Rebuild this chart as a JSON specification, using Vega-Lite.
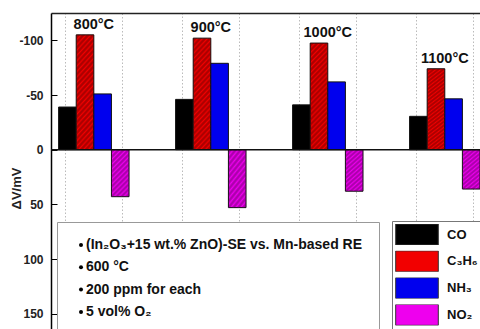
{
  "$schema": "https://vega.github.io/schema/vega-lite/v6.json",
  "width": 429,
  "height": 316,
  "autosize": {"type": "none"},
  "padding": {"left": 51, "top": 13, "right": 0, "bottom": 0},
  "background": "white",
  "config": {"font": "Liberation Sans", "view": {"stroke": null}},
  "datasets": {
    "bars": [
      {"temp": "800°C", "gas": "CO", "value": -39},
      {"temp": "800°C", "gas": "C₃H₆", "value": -105},
      {"temp": "800°C", "gas": "NH₃", "value": -51},
      {"temp": "800°C", "gas": "NO₂", "value": 43},
      {"temp": "900°C", "gas": "CO", "value": -46},
      {"temp": "900°C", "gas": "C₃H₆", "value": -102},
      {"temp": "900°C", "gas": "NH₃", "value": -79},
      {"temp": "900°C", "gas": "NO₂", "value": 53},
      {"temp": "1000°C", "gas": "CO", "value": -41},
      {"temp": "1000°C", "gas": "C₃H₆", "value": -97.5},
      {"temp": "1000°C", "gas": "NH₃", "value": -62},
      {"temp": "1000°C", "gas": "NO₂", "value": 38},
      {"temp": "1100°C", "gas": "CO", "value": -30.5},
      {"temp": "1100°C", "gas": "C₃H₆", "value": -74},
      {"temp": "1100°C", "gas": "NH₃", "value": -46.5},
      {"temp": "1100°C", "gas": "NO₂", "value": 36}
    ],
    "notes": [
      {"note": "(In₂O₃+15 wt.% ZnO)-SE vs. Mn-based RE"},
      {"note": "600 °C"},
      {"note": "200 ppm for each"},
      {"note": "5 vol% O₂"}
    ]
  },
  "layer": [
    {
      "data": {"name": "bars"},
      "mark": {"type": "bar", "stroke": "#111", "strokeWidth": 1},
      "encoding": {
        "x": {
          "field": "temp", "type": "nominal",
          "scale": {"domain": ["800°C", "900°C", "1000°C", "1100°C"], "paddingInner": 0.398, "paddingOuter": 0.0325, "align": 1},
          "axis": {"orient": "bottom", "title": null, "labels": false, "ticks": false, "domain": false, "grid": true, "bandPosition": 0.094, "gridColor": "#bbb", "gridDash": [1.5, 2], "gridWidth": 1}
        },
        "xOffset": {
          "field": "gas", "type": "nominal",
          "scale": {"domain": ["CO", "C₃H₆", "NH₃", "NO₂"], "paddingInner": 0, "paddingOuter": 0}
        },
        "y": {
          "field": "value", "type": "quantitative",
          "scale": {"domain": [-125, 164], "reverse": true, "nice": false, "zero": false},
          "axis": {
            "title": "ΔV/mV",
            "values": [-100, -75, -50, -25, 0, 25, 50, 75, 100, 125, 150],
            "labelExpr": "datum.value % 50 === 0 ? toString(datum.value) : ''",
            "labelFontWeight": "bold", "labelFontSize": 12, "labelColor": "#222", "labelPadding": 14,
            "tickSize": {"condition": {"test": "datum.value % 50 === 0", "value": -6}, "value": -4},
            "tickColor": "black", "tickWidth": 1,
            "domainColor": "black", "domainWidth": 1.5,
            "grid": true,
            "gridOpacity": {"condition": {"test": "datum.value % 50 === 0", "value": 0}, "value": 1},
            "gridColor": "#bbb", "gridDash": [1.5, 2],
            "titleFontSize": 13, "titleFontWeight": "bold", "titleColor": "#222",
            "titleX": -35, "titleY": 175, "titleBaseline": "middle"
          }
        },
        "color": {
          "field": "gas", "type": "nominal",
          "scale": {"domain": ["CO", "C₃H₆", "NH₃", "NO₂"], "range": ["#000000", "#f20000", "#0000ee", "#ee00ee"]},
          "legend": {
            "orient": "none", "legendX": 341, "legendY": 208, "title": null,
            "symbolType": "M-1,-0.49H1V0.49H-1Z", "symbolSize": 1815,
            "symbolStrokeColor": "#333", "symbolStrokeWidth": 1,
            "clipHeight": 21, "rowPadding": 5.8, "labelOffset": 8,
            "labelFontSize": 13, "labelFontWeight": "bold", "labelColor": "#111",
            "fillColor": "white", "strokeColor": "#777", "padding": 3
          }
        }
      }
    },
    {
      "data": {"name": "bars"},
      "transform": [{"filter": "datum.gas === 'C₃H₆'"}],
      "mark": {
        "type": "bar", "strokeWidth": 0,
        "fill": {
          "gradient": "linear", "x1": 0, "y1": 0, "x2": 0.19, "y2": 1.13,
          "stops": [
            {"offset": 0, "color": "rgba(0,0,0,0)"}, {"offset": 0.02, "color": "rgba(110,0,0,0.55)"},
            {"offset": 0.04, "color": "rgba(0,0,0,0)"}, {"offset": 0.06, "color": "rgba(110,0,0,0.55)"},
            {"offset": 0.08, "color": "rgba(0,0,0,0)"}, {"offset": 0.1, "color": "rgba(110,0,0,0.55)"},
            {"offset": 0.12, "color": "rgba(0,0,0,0)"}, {"offset": 0.14, "color": "rgba(110,0,0,0.55)"},
            {"offset": 0.16, "color": "rgba(0,0,0,0)"}, {"offset": 0.18, "color": "rgba(110,0,0,0.55)"},
            {"offset": 0.2, "color": "rgba(0,0,0,0)"}, {"offset": 0.22, "color": "rgba(110,0,0,0.55)"},
            {"offset": 0.24, "color": "rgba(0,0,0,0)"}, {"offset": 0.26, "color": "rgba(110,0,0,0.55)"},
            {"offset": 0.28, "color": "rgba(0,0,0,0)"}, {"offset": 0.3, "color": "rgba(110,0,0,0.55)"},
            {"offset": 0.32, "color": "rgba(0,0,0,0)"}, {"offset": 0.34, "color": "rgba(110,0,0,0.55)"},
            {"offset": 0.36, "color": "rgba(0,0,0,0)"}, {"offset": 0.38, "color": "rgba(110,0,0,0.55)"},
            {"offset": 0.4, "color": "rgba(0,0,0,0)"}, {"offset": 0.42, "color": "rgba(110,0,0,0.55)"},
            {"offset": 0.44, "color": "rgba(0,0,0,0)"}, {"offset": 0.46, "color": "rgba(110,0,0,0.55)"},
            {"offset": 0.48, "color": "rgba(0,0,0,0)"}, {"offset": 0.5, "color": "rgba(110,0,0,0.55)"},
            {"offset": 0.52, "color": "rgba(0,0,0,0)"}, {"offset": 0.54, "color": "rgba(110,0,0,0.55)"},
            {"offset": 0.56, "color": "rgba(0,0,0,0)"}, {"offset": 0.58, "color": "rgba(110,0,0,0.55)"},
            {"offset": 0.6, "color": "rgba(0,0,0,0)"}, {"offset": 0.62, "color": "rgba(110,0,0,0.55)"},
            {"offset": 0.64, "color": "rgba(0,0,0,0)"}, {"offset": 0.66, "color": "rgba(110,0,0,0.55)"},
            {"offset": 0.68, "color": "rgba(0,0,0,0)"}, {"offset": 0.7, "color": "rgba(110,0,0,0.55)"},
            {"offset": 0.72, "color": "rgba(0,0,0,0)"}, {"offset": 0.74, "color": "rgba(110,0,0,0.55)"},
            {"offset": 0.76, "color": "rgba(0,0,0,0)"}, {"offset": 0.78, "color": "rgba(110,0,0,0.55)"},
            {"offset": 0.8, "color": "rgba(0,0,0,0)"}, {"offset": 0.82, "color": "rgba(110,0,0,0.55)"},
            {"offset": 0.84, "color": "rgba(0,0,0,0)"}, {"offset": 0.86, "color": "rgba(110,0,0,0.55)"},
            {"offset": 0.88, "color": "rgba(0,0,0,0)"}, {"offset": 0.9, "color": "rgba(110,0,0,0.55)"},
            {"offset": 0.92, "color": "rgba(0,0,0,0)"}, {"offset": 0.94, "color": "rgba(110,0,0,0.55)"},
            {"offset": 0.96, "color": "rgba(0,0,0,0)"}, {"offset": 0.98, "color": "rgba(110,0,0,0.55)"},
            {"offset": 1, "color": "rgba(0,0,0,0)"}
          ]
        }
      },
      "encoding": {
        "x": {"field": "temp", "type": "nominal", "axis": null, "scale": {"domain": ["800°C", "900°C", "1000°C", "1100°C"], "paddingInner": 0.398, "paddingOuter": 0.0325, "align": 1}},
        "xOffset": {"field": "gas", "type": "nominal", "scale": {"domain": ["CO", "C₃H₆", "NH₃", "NO₂"], "paddingInner": 0, "paddingOuter": 0}},
        "y": {"field": "value", "type": "quantitative", "scale": {"domain": [-125, 164], "reverse": true, "nice": false, "zero": false}}
      }
    },
    {
      "data": {"name": "bars"},
      "transform": [{"filter": "datum.gas === 'NO₂'"}],
      "mark": {
        "type": "bar", "strokeWidth": 0,
        "fill": {
          "gradient": "linear", "x1": 0, "y1": 0, "x2": 0.45, "y2": 1.2,
          "stops": [
            {"offset": 0, "color": "rgba(0,0,0,0)"}, {"offset": 0.0385, "color": "rgba(100,0,100,0.5)"},
            {"offset": 0.0769, "color": "rgba(0,0,0,0)"}, {"offset": 0.1154, "color": "rgba(100,0,100,0.5)"},
            {"offset": 0.1538, "color": "rgba(0,0,0,0)"}, {"offset": 0.1923, "color": "rgba(100,0,100,0.5)"},
            {"offset": 0.2308, "color": "rgba(0,0,0,0)"}, {"offset": 0.2692, "color": "rgba(100,0,100,0.5)"},
            {"offset": 0.3077, "color": "rgba(0,0,0,0)"}, {"offset": 0.3462, "color": "rgba(100,0,100,0.5)"},
            {"offset": 0.3846, "color": "rgba(0,0,0,0)"}, {"offset": 0.4231, "color": "rgba(100,0,100,0.5)"},
            {"offset": 0.4615, "color": "rgba(0,0,0,0)"}, {"offset": 0.5, "color": "rgba(100,0,100,0.5)"},
            {"offset": 0.5385, "color": "rgba(0,0,0,0)"}, {"offset": 0.5769, "color": "rgba(100,0,100,0.5)"},
            {"offset": 0.6154, "color": "rgba(0,0,0,0)"}, {"offset": 0.6538, "color": "rgba(100,0,100,0.5)"},
            {"offset": 0.6923, "color": "rgba(0,0,0,0)"}, {"offset": 0.7308, "color": "rgba(100,0,100,0.5)"},
            {"offset": 0.7692, "color": "rgba(0,0,0,0)"}, {"offset": 0.8077, "color": "rgba(100,0,100,0.5)"},
            {"offset": 0.8462, "color": "rgba(0,0,0,0)"}, {"offset": 0.8846, "color": "rgba(100,0,100,0.5)"},
            {"offset": 0.9231, "color": "rgba(0,0,0,0)"}, {"offset": 0.9615, "color": "rgba(100,0,100,0.5)"},
            {"offset": 1, "color": "rgba(0,0,0,0)"}
          ]
        }
      },
      "encoding": {
        "x": {"field": "temp", "type": "nominal", "axis": null, "scale": {"domain": ["800°C", "900°C", "1000°C", "1100°C"], "paddingInner": 0.398, "paddingOuter": 0.0325, "align": 1}},
        "xOffset": {"field": "gas", "type": "nominal", "scale": {"domain": ["CO", "C₃H₆", "NH₃", "NO₂"], "paddingInner": 0, "paddingOuter": 0}},
        "y": {"field": "value", "type": "quantitative", "scale": {"domain": [-125, 164], "reverse": true, "nice": false, "zero": false}}
      }
    },
    {
      "data": {"name": "bars"},
      "transform": [{"filter": "datum.gas === 'C₃H₆'"}],
      "mark": {"type": "text", "fontWeight": "bold", "fontSize": 14.5, "baseline": "alphabetic", "dy": -6, "color": "#111"},
      "encoding": {
        "x": {
          "field": "temp", "type": "nominal",
          "scale": {"domain": ["800°C", "900°C", "1000°C", "1100°C"], "paddingInner": 0.398, "paddingOuter": 0.0325, "align": 1},
          "axis": {"orient": "top", "title": null, "labels": false, "ticks": false, "domain": true, "domainColor": "#222", "domainWidth": 1.5, "grid": true, "bandPosition": 0.913, "gridColor": "#bbb", "gridDash": [1.5, 2], "gridWidth": 1}
        },
        "y": {"field": "value", "type": "quantitative", "scale": {"domain": [-125, 164], "reverse": true, "nice": false, "zero": false}},
        "text": {"field": "temp"}
      }
    },
    {
      "data": {"values": [{}]},
      "mark": {"type": "rule", "color": "#111", "strokeWidth": 1.5},
      "encoding": {"y": {"datum": 0}}
    },
    {
      "data": {"name": "notes"},
      "mark": {"type": "point", "filled": true, "opacity": 0, "color": "black"},
      "encoding": {
        "shape": {
          "field": "note", "type": "nominal",
          "scale": {"domain": ["(In₂O₃+15 wt.% ZnO)-SE vs. Mn-based RE", "600 °C", "200 ppm for each", "5 vol% O₂"], "range": ["circle", "circle", "circle", "circle"]},
          "legend": {
            "orient": "none", "legendX": 6, "legendY": 209, "title": null,
            "symbolSize": 16, "symbolFillColor": "#111", "symbolStrokeColor": "#111", "symbolOpacity": 1, "symbolStrokeWidth": 0,
            "clipHeight": 14, "rowPadding": 8.3, "symbolOffset": 1, "labelOffset": -2,
            "labelFontSize": 14, "labelFontWeight": "bold", "labelColor": "#111", "labelLimit": 400,
            "fillColor": "white", "strokeColor": "#999", "padding": 16
          }
        }
      }
    }
  ],
  "resolve": {"axis": {"x": "independent"}}
}
